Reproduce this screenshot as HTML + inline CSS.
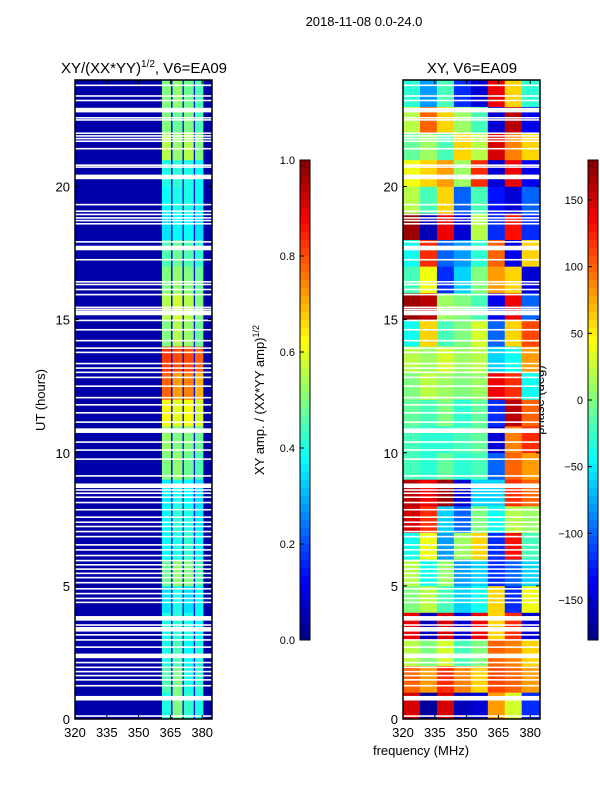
<!DOCTYPE html>
<html><head><meta charset="utf-8"><style>
body{margin:0;background:#fff;}
svg text{font-family:"Liberation Sans","DejaVu Sans",sans-serif;fill:#000;}
</style></head><body>
<svg id="fig" width="600" height="800" xmlns="http://www.w3.org/2000/svg">
<text x="364" y="26" font-size="13" text-anchor="middle">2018-11-08 0.0-24.0</text>
<text x="144" y="73" font-size="15" text-anchor="middle">XY/(XX*YY)<tspan font-size="10" dy="-6">1/2</tspan><tspan dy="6">, V6=EA09</tspan></text>
<text x="472" y="73" font-size="15" text-anchor="middle">XY, V6=EA09</text>
<text transform="translate(45,400) rotate(-90)" font-size="13" text-anchor="middle">UT (hours)</text>
<text x="421" y="755" font-size="13" text-anchor="middle">frequency (MHz)</text>
<text transform="translate(264,400) rotate(-90)" font-size="13" text-anchor="middle">XY amp. / (XX*YY amp)<tspan font-size="9" dy="-5">1/2</tspan></text>
<text transform="translate(544,400) rotate(-90)" font-size="13" text-anchor="middle">phase (deg)</text>
<g id="left"></g><g id="right"></g><g id="cb"></g>
</svg>
<script>
// ---- data ----
const hours = [0,1,2,3,4,5,6,7,8,9,10,11,12,13,14,15,16,17,18,19,20,21,22,23];
const ampBackground = 0.04;
const ampSeparator = 0.14;
// 4 bright stripes in 361-380 MHz, per hour
const ampStripes = [
[0.40,0.50,0.42,0.40],[0.45,0.50,0.40,0.42],[0.40,0.45,0.38,0.40],[0.40,0.42,0.40,0.38],
[0.35,0.40,0.35,0.38],[0.48,0.52,0.50,0.45],[0.38,0.40,0.42,0.38],[0.38,0.42,0.40,0.36],
[0.36,0.40,0.38,0.35],[0.50,0.52,0.48,0.45],[0.52,0.50,0.50,0.48],[0.62,0.60,0.62,0.58],
[0.78,0.72,0.75,0.70],[0.82,0.80,0.80,0.78],[0.50,0.55,0.52,0.48],[0.55,0.58,0.55,0.50],
[0.50,0.52,0.50,0.48],[0.45,0.48,0.45,0.42],[0.35,0.38,0.38,0.35],[0.38,0.40,0.40,0.38],
[0.40,0.42,0.40,0.38],[0.55,0.52,0.55,0.50],[0.50,0.48,0.50,0.45],[0.50,0.52,0.48,0.45]];
const stripeEdges = [[361,365.3],[366,370.7],[371.3,376],[376.6,380.4]];
const separatorEdges = [[365.3,366],[370.7,371.3],[376,376.6]];
// phase (deg), 8 frequency columns per hour
const phaseCols = [320,328,336,344,352,360,368,376,384.6];
const phase = [
[150,-170,150,-160,-150,80,30,-120],[100,80,120,90,60,110,100,80],[20,0,30,-20,0,100,90,60],
[140,-160,150,-150,140,60,120,-150],[0,20,-20,-60,-40,60,-120,40],[20,-40,10,-80,-60,-120,-100,-60],
[-40,40,-80,10,60,-120,130,-20],[150,120,-60,-100,0,-40,20,10],[160,140,170,-150,-60,-60,120,100],
[-20,-30,-10,-30,-20,-100,100,80],[-20,-30,-30,-20,-10,-150,90,120],[-10,-20,0,-30,-10,-120,160,100],
[0,20,10,0,10,140,120,-40],[20,10,30,10,20,-60,-40,80],[-40,60,-20,0,30,-100,60,110],
[170,160,10,0,-20,-140,140,-100],[-20,40,-120,-60,0,80,60,-150],[-40,120,-100,-80,-30,100,-140,60],
[170,-160,140,-150,20,-120,130,-120],[20,-20,60,-100,-20,-130,-150,-100],[40,60,80,10,120,-150,140,-140],
[-10,10,-20,60,20,150,90,60],[20,100,60,10,-20,-150,160,-140],[-30,-80,-20,-120,-150,140,60,-30]];
// flagged (white) times in hours
const gapsThin = [0.11,1.25,1.47,1.63,1.78,1.94,2.12,2.7,2.97,3.16,3.53,4.38,4.53,4.71,4.89,5.12,5.31,5.47,5.63,5.79,5.95,6.14,6.35,6.54,6.85,7.04,7.23,7.39,7.58,7.86,8.13,8.33,8.48,8.6,9.13,9.76,10.1,10.4,11.15,11.5,11.8,12.07,12.5,12.83,13.02,13.18,13.35,13.77,13.93,14.21,14.62,14.97,15.38,15.46,15.94,16.13,16.32,16.42,17.25,17.92,18.6,18.72,18.82,18.95,19.07,19.32,20.73,20.8,21.42,21.7,21.8,21.9,22.0,22.5,22.58,23.23,23.4,23.8];
const gapsThick = [0.78,2.37,3.37,3.78,8.76,10.83,15.25,17.69,20.36,22.87];
const ampTicks = [0,0.2,0.4,0.6,0.8,1.0];
const phaseTicks = [-150,-100,-50,0,50,100,150];
const xTicks = [320,335,350,365,380];
const yTicks = [0,5,10,15,20];

// ---- helpers ----
const NS='http://www.w3.org/2000/svg';
function jet(v){v=Math.max(0,Math.min(1,v));
 const c=x=>Math.round(255*Math.max(0,Math.min(1,1.5-Math.abs(4*v-x))));
 return `rgb(${c(3)},${c(2)},${c(1)})`;}
function mk(tag,attrs,parent){const e=document.createElementNS(NS,tag);for(const k in attrs)e.setAttribute(k,attrs[k]);parent.appendChild(e);return e;}
const Y0=719,Y1=80;
const yScale=h=>Y0-(h/24)*(Y0-Y1);
function xScaleFor(x0){return f=>x0+(f-320)*2.12;}

function panel(g,x0,fill,name){
 const xs=xScaleFor(x0), x1=x0+137;
 fill(xs);
 gapsThin.forEach(h=>{const r=mk('rect',{x:x0,y:yScale(h)-0.8,width:137,height:1.6,fill:'#fff'},g);
  
  });
 gapsThick.forEach(h=>{const r=mk('rect',{x:x0,y:yScale(h)-2.3,width:137,height:4.6,fill:'#fff'},g);
  
  });
 const fr=mk('rect',{x:x0,y:Y1,width:137,height:Y0-Y1,fill:'none',stroke:'#000','stroke-width':1.5},g);
 
 
 xTicks.forEach(t=>{const x=xs(t);
  mk('line',{x1:x,x2:x,y1:Y0,y2:Y0-4,stroke:'#000'},g);mk('line',{x1:x,x2:x,y1:Y1,y2:Y1+4,stroke:'#000'},g);
  const tx=mk('text',{x:x,y:Y0+18,'font-size':13,'text-anchor':'middle'},g);tx.textContent=t;
  
  });
 yTicks.forEach(t=>{const y=yScale(t);
  mk('line',{x1:x0,x2:x0+4,y1:y,y2:y,stroke:'#000'},g);mk('line',{x1:x1,x2:x1-4,y1:y,y2:y,stroke:'#000'},g);
  const tx=mk('text',{x:x0-5,y:y+5,'font-size':13,'text-anchor':'end'},g);tx.textContent=t;
  
  });
}
// left amplitude panel
panel(document.getElementById('left'),75,xs=>{
 const g=document.getElementById('left');
 const bg=mk('rect',{x:75,y:Y1,width:137,height:Y0-Y1,fill:jet(ampBackground)},g);
 
 
 hours.forEach((h,i)=>{
  stripeEdges.forEach((e,j)=>{const r=mk('rect',{x:xs(e[0]),y:yScale(h+1),width:xs(e[1])-xs(e[0])+0.3,height:yScale(h)-yScale(h+1)+0.3,fill:jet(ampStripes[i][j])},g);
   
   });
  separatorEdges.forEach(e=>{const r=mk('rect',{x:xs(e[0]),y:yScale(h+1),width:xs(e[1])-xs(e[0]),height:yScale(h)-yScale(h+1)+0.3,fill:jet(ampSeparator)},g);
   
   });
 });
},'amp-panel');
// right phase panel
panel(document.getElementById('right'),403,xs=>{
 const g=document.getElementById('right');
 hours.forEach((h,i)=>{
  for(let j=0;j<phaseCols.length-1;j++){
   const r=mk('rect',{x:xs(phaseCols[j]),y:yScale(h+1),width:xs(phaseCols[j+1])-xs(phaseCols[j])+0.3,height:yScale(h)-yScale(h+1)+0.3,fill:jet((phase[i][j]+180)/360)},g);
   
   
  }});
},'phase-panel');
// colorbars
function colorbar(x,min,max,ticks,name,fmt){
 const g=document.getElementById('cb');
 const top=160,bot=640,n=60;
 for(let k=0;k<n;k++){const r=mk('rect',{x:x,y:bot-(k+1)*(bot-top)/n,width:10,height:(bot-top)/n+0.5,fill:jet((k+0.5)/n)},g);
  
  }
 const fr=mk('rect',{x:x,y:top,width:10,height:bot-top,fill:'none',stroke:'#000','stroke-width':1},g);
 
 
 ticks.forEach(t=>{const y=bot-(t-min)/(max-min)*(bot-top);
  mk('line',{x1:x,x2:x+4,y1:y,y2:y,stroke:'#000'},g);
  const tx=mk('text',{x:x-5,y:y+4,'font-size':11,'text-anchor':'end'},g);tx.textContent=fmt(t);
  
  });
}
colorbar(300,0,1,ampTicks,'amp-colorbar',t=>t.toFixed(1));
colorbar(588,-180,180,phaseTicks,'phase-colorbar',t=>t<0?'\u2212'+(-t):String(t));
</script>
</body></html>
